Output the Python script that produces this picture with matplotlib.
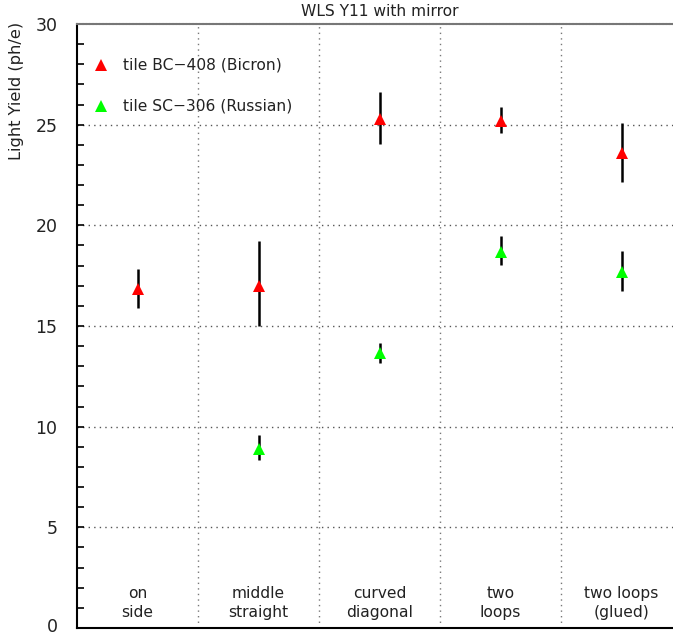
import numpy as np
import matplotlib.pyplot as plt
import matplotlib.transforms as mtransforms

# категории (конфигурации волокна)
categories = ['on\nside', 'middle\nstraight', 'curved\ndiagonal', 'two\nloops', 'two loops\n(glued)']

# tile BC-408 (Bicron)
bicron_x = [0, 1, 2, 3, 4]
bicron_y = [16.85, 17.0, 25.3, 25.2, 23.6]
bicron_lo = [0.95, 2.0, 1.25, 0.6, 1.45]
bicron_hi = [1.0, 2.2, 1.3, 0.7, 1.5]

# tile SC-306 (Russian)
russian_x = [1, 2, 3, 4]
russian_y = [8.9, 13.65, 18.7, 17.7]
russian_lo = [0.55, 0.5, 0.65, 0.95]
russian_hi = [0.7, 0.5, 0.75, 1.05]

fig = plt.figure(figsize=(6.73, 6.36), dpi=100)
ax = fig.add_axes([77 / 673, 8 / 636, 605 / 673, 604 / 636])

font = 'DejaVu Sans'
fs = 11.2

bx = np.array(bicron_x) + 0.5
rx = np.array(russian_x) + 0.5

ax.errorbar(bx, bicron_y, yerr=[bicron_lo, bicron_hi], fmt='none',
            ecolor='black', elinewidth=1.8, capsize=0, zorder=3)
ax.errorbar(rx, russian_y, yerr=[russian_lo, russian_hi], fmt='none',
            ecolor='black', elinewidth=1.8, capsize=0, zorder=3)
ax.plot(bx, bicron_y, '^', color='#ff0000', markersize=8, markeredgewidth=0, zorder=4)
ax.plot(rx, russian_y, '^', color='#00ff00', markersize=8, markeredgewidth=0, zorder=4)

ax.set_xlim(0, 5)
ax.set_ylim(0, 30)

# сетка
for v in [1, 2, 3, 4]:
    ax.axvline(v, color='#777777', linestyle=(0, (1, 3)), linewidth=1.0, zorder=1)
for h in [5, 10, 15, 20, 25]:
    ax.axhline(h, color='#555555', linestyle=(0, (1, 3)), linewidth=1.0, zorder=1)

ax.spines['right'].set_visible(False)
ax.spines['top'].set_color('#777777')
ax.spines['top'].set_linestyle((0, (1, 0.6)))
ax.spines['top'].set_linewidth(1.5)
ax.spines['left'].set_linewidth(1.5)
ax.spines['bottom'].set_linewidth(1.5)

ax.set_xticks([])
ax.set_yticks([0, 5, 10, 15, 20, 25, 30])
ax.set_yticks(np.arange(0, 31, 1), minor=True)
ax.tick_params(axis='y', which='both', direction='in', length=5, width=1.2, pad=14)
ax.tick_params(axis='y', which='major', labelsize=12.5)
for lbl in ax.get_yticklabels():
    lbl.set_family(font)
    lbl.set_color('#222222')

# подпись "0" чуть выше, чтобы не обрезалась краем
lbl0 = ax.yaxis.get_major_ticks()[0].label1
lbl0.set_transform(lbl0.get_transform() +
                   mtransforms.ScaledTranslation(0, 3 / 100, fig.dpi_scale_trans))

for i, c in enumerate(categories):
    ax.text(i + 0.5, 1.25, c, ha='center', va='center', fontsize=fs,
            family=font, linespacing=1.35, color='#222222')

# легенда
ax.plot([0.2], [27.95], '^', color='#ff0000', markersize=8, markeredgewidth=0)
ax.plot([0.2], [25.95], '^', color='#00ff00', markersize=8, markeredgewidth=0)
ax.text(0.38, 27.95, 'tile BC\u2212408 (Bicron)', va='center', fontsize=fs,
        family=font, color='#222222')
ax.text(0.38, 25.95, 'tile SC\u2212306 (Russian)', va='center', fontsize=fs,
        family=font, color='#222222')

fig.text(380 / 673, 1 - 12 / 636, 'WLS Y11 with mirror', ha='center', va='center',
         fontsize=fs, family=font, color='#222222')
fig.text(17 / 673, 1 - 91 / 636, 'Light Yield (ph/e)', ha='center', va='center',
         rotation=90, fontsize=11.7, family=font, color='#222222')

fig.savefig('out.png', dpi=100)
